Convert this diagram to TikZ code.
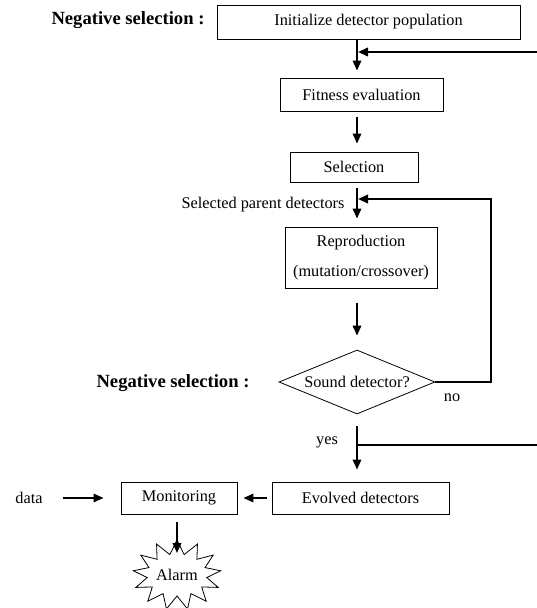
\documentclass[tikz,border=0pt]{standalone}
\usepackage{fontspec}
\setmainfont{Liberation Serif}
\usetikzlibrary{arrows.meta,shapes.geometric,shapes.symbols}
\begin{document}
\begin{tikzpicture}[x=1pt,y=-1pt,
  every node/.style={font=\fontsize{16.3}{19}\selectfont},
  box/.style={draw,line width=0.9pt,inner sep=0pt,anchor=center},
  lbl/.style={font=\bfseries\fontsize{18.6}{21}\selectfont},
  arr/.style={line width=1.8pt,-{Triangle[length=10pt,width=8.5pt]}},
  fb/.style={line width=2.2pt}]
\useasboundingbox (0,0) rectangle (537,608);
% nodes
\node[lbl] (neg1) at (128,20) {Negative selection :};
\node[box,minimum width=303pt,minimum height=34pt] (init) at (368.5,22) {Initialize detector population};
\node[box,minimum width=163pt,minimum height=33pt] (fit) at (361.5,94.5) {Fitness evaluation};
\node[box,minimum width=128pt,minimum height=30pt] (sel) at (354,167) {Selection};
\node[anchor=east] (spd) at (348,205) {Selected parent detectors};
\node[box,minimum width=152pt,minimum height=61pt,align=center] (repro) at (361,257.5) {Reproduction\\[11pt](mutation/crossover)};
\node[lbl] (neg2) at (173,383) {Negative selection :};
\node[draw,line width=0.8pt,diamond,aspect=2.44,minimum width=156pt,minimum height=64pt,inner sep=0pt] (dia) at (357,382) {Sound detector?};
\node (no) at (452,398) {no};
\node (yes) at (327,442) {yes};
\node[box,minimum width=177pt,minimum height=32pt] (evo) at (360.5,498) {Evolved detectors};
\node[box,minimum width=116pt,minimum height=32pt] (mon) at (179,498) {Monitoring};
\node (data) at (29,498) {data};
\node[draw,line width=0.8pt,starburst,starburst points=13,starburst point height=14pt,random starburst=0,minimum width=88pt,minimum height=70pt,inner sep=0pt] (alarm) at (177,575) {Alarm};
% helper coordinates
\coordinate (c) at (357,0);
\coordinate (r1) at (537,52);
\coordinate (f1) at (357,52);
\coordinate (r2) at (537,445);
\coordinate (y2) at (357,445);
\coordinate (nb) at (491,382);
\coordinate (nt) at (491,199);
\coordinate (na) at (357,199);
% main flow
\draw[arr,shorten >=7pt] (init.south -| c) -- (fit.north -| c);
\draw[arr,shorten <=6pt,shorten >=8pt] (fit.south -| c) -- (sel.north -| c);
\draw[arr,shorten <=6pt,shorten >=8pt] (sel.south -| c) -- (repro.north -| c);
\draw[arr,shorten <=15pt,shorten >=14pt] (repro.south -| c) -- (dia.north);
\draw[arr,shorten <=12pt,shorten >=12pt] (dia.south) -- (evo.north -| c);
% feedback lines
\draw[fb,-{Triangle[length=10pt,width=8.5pt]},shorten >=1pt] (r1) -- (f1);
\draw[fb,-{Triangle[length=10pt,width=8.5pt]},shorten >=1pt] (dia.east) -- (nb) -- (nt) -- (na);
\draw[fb] (y2) -- (r2);
% bottom
\draw[arr,shorten <=5pt,shorten >=6pt] (evo.west) -- (mon.east);
\draw[arr,shorten <=17pt,shorten >=17pt] (data.east) -- (mon.west);
\draw[arr,shorten <=8pt,shorten >=0pt] (mon.south -| 177,0) -- (177,553);
\end{tikzpicture}
\end{document}
